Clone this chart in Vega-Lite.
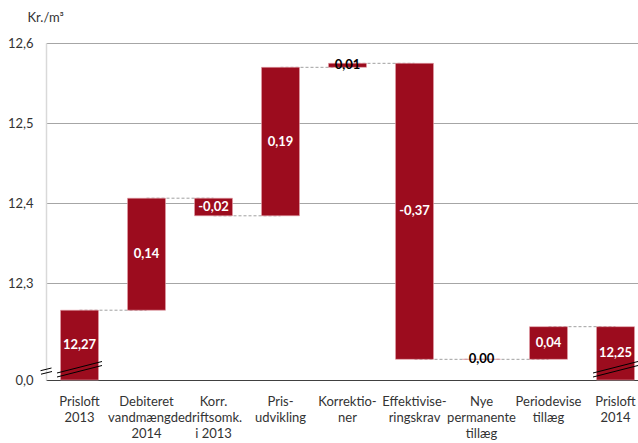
{
  "$schema": "https://vega.github.io/schema/vega-lite/v6.json",
  "autosize": {"type": "none"},
  "padding": {"left": 46, "top": 43, "right": 0, "bottom": 63},
  "width": 592,
  "height": 337,
  "background": "white",
  "config": {
    "view": {"stroke": null},
    "font": "Lato",
    "axis": {"labelFont": "Lato", "titleFont": "Lato"}
  },
  "datasets": {
    "bars": [
      {"cat": "Prisloft|2013", "start": 12.17875, "end": 12.266, "label": "12,27"},
      {"cat": "Debiteret|vandmængde|2014", "start": 12.266, "end": 12.406, "label": "0,14"},
      {"cat": "Korr.|driftsomk.|i 2013", "start": 12.406, "end": 12.384, "label": "-0,02"},
      {"cat": "Pris-|udvikling", "start": 12.384, "end": 12.5696, "label": "0,19"},
      {"cat": "Korrektio-|ner", "start": 12.5696, "end": 12.5746, "label": "0,01"},
      {"cat": "Effektivise-|ringskrav", "start": 12.5746, "end": 12.2046, "label": "-0,37"},
      {"cat": "Nye|permanente|tillæg", "start": 12.2046, "end": 12.2046, "label": "0,00"},
      {"cat": "Periodevise|tillæg", "start": 12.2046, "end": 12.2454, "label": "0,04"},
      {"cat": "Prisloft|2014", "start": 12.17875, "end": 12.2454, "label": "12,25"}
    ],
    "connectors": [
      {"pair": 1, "cat": "Prisloft|2013", "v": 12.266},
      {"pair": 1, "cat": "Debiteret|vandmængde|2014", "v": 12.266},
      {"pair": 2, "cat": "Debiteret|vandmængde|2014", "v": 12.406},
      {"pair": 2, "cat": "Korr.|driftsomk.|i 2013", "v": 12.406},
      {"pair": 3, "cat": "Korr.|driftsomk.|i 2013", "v": 12.384},
      {"pair": 3, "cat": "Pris-|udvikling", "v": 12.384},
      {"pair": 4, "cat": "Pris-|udvikling", "v": 12.5696},
      {"pair": 4, "cat": "Korrektio-|ner", "v": 12.5696},
      {"pair": 5, "cat": "Korrektio-|ner", "v": 12.5746},
      {"pair": 5, "cat": "Effektivise-|ringskrav", "v": 12.5746},
      {"pair": 6, "cat": "Effektivise-|ringskrav", "v": 12.2046},
      {"pair": 6, "cat": "Nye|permanente|tillæg", "v": 12.2046},
      {"pair": 7, "cat": "Nye|permanente|tillæg", "v": 12.2046},
      {"pair": 7, "cat": "Periodevise|tillæg", "v": 12.2046},
      {"pair": 8, "cat": "Periodevise|tillæg", "v": 12.2454},
      {"pair": 8, "cat": "Prisloft|2014", "v": 12.2454}
    ],
    "breaks": [
      {"cat": "Prisloft|2013", "v": 12.19125},
      {"cat": "Prisloft|2014", "v": 12.19125}
    ],
    "axisbreak": [
      {"cat": "Prisloft|2013", "v": 12.19125}
    ]
  },
  "encoding": {
    "x": {
      "field": "cat",
      "type": "nominal",
      "scale": {
        "domain": ["Prisloft|2013", "Debiteret|vandmængde|2014", "Korr.|driftsomk.|i 2013", "Pris-|udvikling", "Korrektio-|ner", "Effektivise-|ringskrav", "Nye|permanente|tillæg", "Periodevise|tillæg", "Prisloft|2014"],
        "range": [0, 603],
        "paddingInner": 0.433,
        "paddingOuter": 0.2165
      },
      "axis": {
        "title": null,
        "labelAngle": 0,
        "labelExpr": "split(datum.label, '|')",
        "labelFontSize": 13,
        "labelColor": "#333333",
        "labelLineHeight": 16,
        "labelPadding": 15,
        "labelOverlap": false,
        "labelLimit": 0,
        "ticks": false,
        "tickSize": 0,
        "domainColor": "#404040",
        "domainWidth": 1.2
      }
    }
  },
  "layer": [
    {
      "data": {"name": "connectors"},
      "mark": {"type": "line", "stroke": "#a0a0a0", "strokeWidth": 1, "strokeDash": [3, 2]},
      "encoding": {
        "y": {
          "field": "v",
          "type": "quantitative",
          "scale": {"domain": [12.17875, 12.6], "zero": false, "nice": false},
          "axis": {
            "title": "Kr./m³",
            "titleAngle": 0,
            "titleAlign": "left",
            "titleBaseline": "middle",
            "titleX": -19,
            "titleY": -26,
            "titleFontSize": 13,
            "titleFontWeight": "normal",
            "titleColor": "#333333",
            "values": [12.17875, 12.3, 12.4, 12.5, 12.6],
            "labelExpr": "datum.value < 12.2 ? '0,0' : replace(format(datum.value, '.1f'), '.', ',')",
            "labelFontSize": 13,
            "labelColor": "#333333",
            "labelPadding": 13,
            "ticks": false,
            "tickSize": 0,
            "grid": true,
            "gridColor": "#a6a6a6",
            "gridWidth": 1,
            "domainColor": "#d9d9d9",
            "domainWidth": 1.5
          }
        },
        "detail": {"field": "pair", "type": "nominal"}
      }
    },
    {
      "data": {"name": "bars"},
      "mark": {"type": "bar", "color": "#9c0c1e", "stroke": "#e2a0a8", "strokeWidth": 0.6},
      "encoding": {
        "y": {"field": "start", "type": "quantitative"},
        "y2": {"field": "end"}
      }
    },
    {
      "data": {"name": "breaks"},
      "mark": {"type": "point", "shape": "M-2.25,0.3L2.25,-0.85M-2.25,0.7L2.25,-0.45", "size": 400, "filled": false, "stroke": "black", "strokeWidth": 1, "opacity": 1},
      "encoding": {
        "y": {"field": "v", "type": "quantitative"}
      }
    },
    {
      "data": {"name": "axisbreak"},
      "mark": {"type": "point", "shape": "M-3.9,0.07L-2.8,-0.2M-3.85,0.42L-2.75,0.15", "size": 400, "filled": false, "stroke": "black", "strokeWidth": 1, "opacity": 1},
      "encoding": {
        "y": {"field": "v", "type": "quantitative"}
      }
    },
    {
      "data": {"name": "bars"},
      "transform": [{"calculate": "(datum.start + datum.end) / 2", "as": "mid"}],
      "mark": {"type": "text", "font": "Lato", "fontSize": 13, "fontWeight": "bold", "baseline": "middle", "align": "center"},
      "encoding": {
        "y": {"field": "mid", "type": "quantitative"},
        "text": {"field": "label"},
        "color": {
          "condition": {"test": "abs(datum.end - datum.start) < 0.015", "value": "#000000"},
          "value": "#ffffff"
        }
      }
    }
  ]
}
